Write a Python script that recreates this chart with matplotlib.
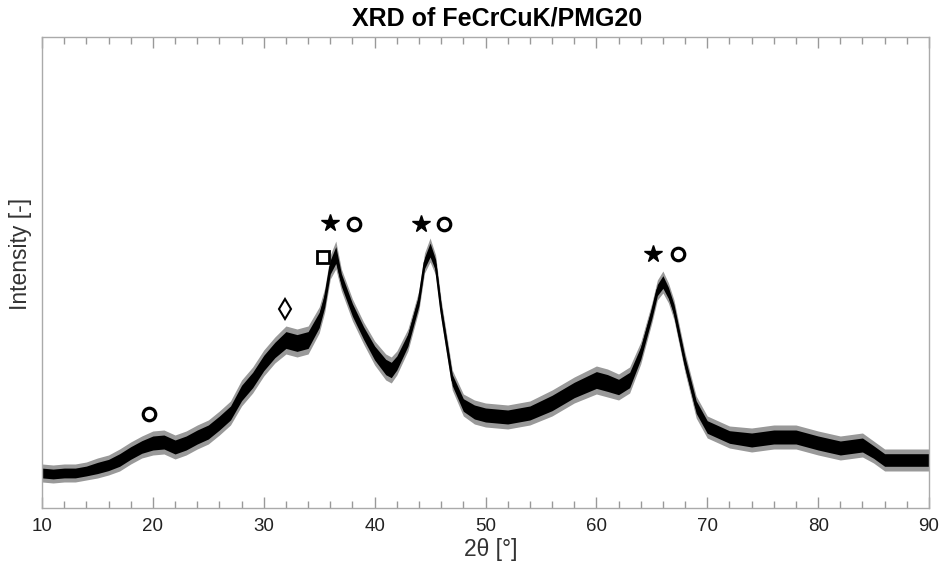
import numpy as np
import matplotlib.pyplot as plt

plt.rcParams['font.family'] = ['Liberation Sans', 'DejaVu Sans']

# -------- (arbitrary intensity units) --------
two_theta = [10, 11, 12, 13, 14, 15, 16, 17, 18, 19, 20, 21, 22, 23, 24, 25,
             26, 27, 28, 29, 30, 31, 32, 33, 34, 35, 35.5, 36, 36.5, 37, 38,
             39, 40, 41, 41.5, 42, 43, 44, 44.5, 45, 45.5, 46, 47, 48, 49, 50,
             52, 54, 56, 58, 60, 61, 62, 63, 64, 65, 65.5, 66, 66.5, 67, 68,
             69, 70, 72, 74, 76, 78, 80, 82, 84, 85, 86, 88, 90]
intensity = [35, 34, 35, 35, 37, 40, 43, 48, 55, 61, 65, 66, 61, 65, 71, 76,
             85, 95, 115, 128, 145, 158, 168, 165, 168, 188, 208, 241, 253, 228, 198,
             175, 155, 141, 138, 145, 168, 208, 245, 258, 243, 198, 128, 103, 96, 93,
             91, 95, 105, 118, 128, 125, 121, 128, 155, 195, 218, 226, 215, 198, 145,
             101, 81, 71, 68, 71, 71, 65, 60, 63, 56, 48, 48, 48]
# half thickness of the noisy trace
noise = [7, 7, 7, 7, 7, 8, 8, 9, 9, 9, 10, 10, 10, 10, 10, 10,
         10, 10, 11, 11, 11, 11, 12, 12, 12, 11, 10, 10, 12, 9, 9,
         9, 10, 11, 11, 10, 9, 8, 8, 10, 8, 8, 8, 9, 10, 10,
         10, 10, 11, 11, 12, 12, 11, 11, 9, 8, 8, 9, 8, 8, 8,
         9, 9, 9, 10, 10, 10, 10, 10, 10, 9, 9, 9, 9]

# phase markers: (2theta, height)
star_x, star_y = [35.97, 44.18, 65.1], [285, 284, 254]
circ_x, circ_y = [19.65, 38.13, 46.25, 67.35], [94, 284, 284, 254]
sq_x, sq_y = [35.34], [251]
dia_x, dia_y = [31.9], [199]

x = np.array(two_theta)
y = np.array(intensity)
hw = np.array(noise)

fig = plt.figure(figsize=(9.42, 5.64), dpi=100)
ax = fig.add_axes([0.0446, 0.0993, 0.9416, 0.8351])

ax.fill_between(x, y - hw - 2, y + hw + 2, color='#555555', alpha=0.6, lw=0)
ax.fill_between(x, y - 0.7 * hw, y + 0.7 * hw, color='black', lw=0)
ax.plot(x, y, color='black', lw=1.5)

ax.plot(star_x, star_y, '*', color='black', ms=13, ls='none')
ax.plot(circ_x, circ_y, 'o', mfc='white', mec='black', mew=2.3, ms=9, ls='none')
ax.plot(sq_x, sq_y, 's', mfc='white', mec='black', mew=2.0, ms=8, ls='none')
ax.plot(dia_x, dia_y, 'd', mfc='white', mec='black', mew=1.5, ms=10, ls='none')

ax.set_xlim(10, 90)
ax.set_ylim(0, 471)
ax.set_xticks(range(10, 91, 10))
ax.set_xticks(range(10, 91, 2), minor=True)
ax.set_yticks([])
ax.tick_params(axis='x', which='both', direction='in', top=True, colors='#999999',
               labelcolor='#222222', labelsize=13.5, pad=7)
ax.tick_params(axis='x', which='major', length=8, width=1)
ax.tick_params(axis='x', which='minor', length=5, width=1)
for s in ax.spines.values():
    s.set_color('#aaaaaa')
    s.set_linewidth(1)

ax.set_xlabel('2θ [°]', fontsize=16.5, color='#333333')
ax.xaxis.set_label_coords(0.506, -0.064)
ax.set_ylabel('Intensity [-]', fontsize=16.5, color='#333333')
ax.yaxis.set_label_coords(-0.011, 0.54)
ax.set_title('XRD of FeCrCuK/PMG20', fontsize=18, fontweight='bold', pad=8, x=0.513)

fig.savefig('out.png', dpi=100)
